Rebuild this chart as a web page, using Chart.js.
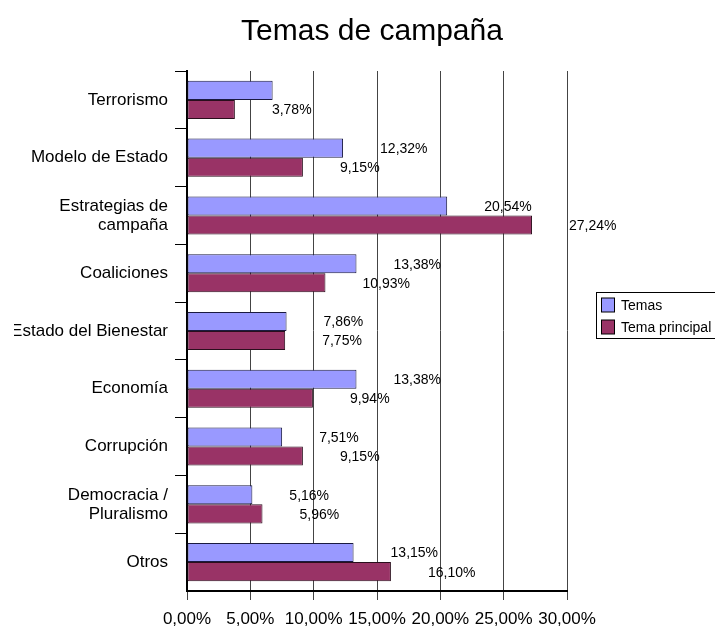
<!DOCTYPE html>
<html>
<head>
<meta charset="utf-8">
<script src="https://cdn.jsdelivr.net/npm/chart.js@4"></script>
<style>
  body { margin: 0; background: #fff; }
</style>
</head>
<body>
<canvas id="temasChart" width="715" height="626"></canvas>
<script>
const categorias = ['Terrorismo', 'Modelo de Estado', ['Estrategias de', 'campaña'], 'Coaliciones',
    'Estado del Bienestar', 'Economía', 'Corrupción', ['Democracia /', 'Pluralismo'], 'Otros'];
const temas = [6.76, 12.32, 20.54, 13.38, 7.86, 13.38, 7.51, 5.16, 13.15];
const temaPrincipal = [3.78, 9.15, 27.24, 10.93, 7.75, 9.94, 9.15, 5.96, 16.10];
// the Terrorismo label of "Temas" is not shown in the original
const ocultasTemas = [0];
const ejeMin = 0;
const ejeMax = 30;
const ejePaso = 5;

const fuente = "'Liberation Sans', Arial, sans-serif";

function pct(v) {
    return v.toFixed(2).replace('.', ',') + '%';
}

// value labels, offset to the right of each bar
const etiquetasBarras = {
    id: 'etiquetasBarras',
    afterDatasetsDraw(chart) {
        const ctx = chart.ctx;
        ctx.save();
        ctx.font = '14px ' + fuente;
        ctx.fillStyle = '#000';
        ctx.textAlign = 'left';
        ctx.textBaseline = 'middle';
        chart.data.datasets.forEach((ds, di) => {
            chart.getDatasetMeta(di).data.forEach((bar, i) => {
                if (di === 0 && ocultasTemas.includes(i)) return;
                ctx.fillText(pct(ds.data[i]), bar.x + 37, bar.y + 1);
            });
        });
        ctx.restore();
    }
};

// boxed legend on the right, cut by the canvas edge like the original
const leyenda = {
    id: 'leyenda',
    afterDraw(chart) {
        const ctx = chart.ctx;
        const x = chart.chartArea.right + 29.5;
        const y = Math.round(chart.height / 2) - 20.5;
        ctx.save();
        ctx.strokeStyle = '#000';
        ctx.lineWidth = 1;
        ctx.strokeRect(x, y, 140, 46);
        ctx.font = '14px ' + fuente;
        ctx.textBaseline = 'middle';
        chart.data.datasets.forEach((ds, i) => {
            const cy = y + 12.5 + i * 22;
            ctx.fillStyle = ds.backgroundColor;
            ctx.fillRect(x + 5, cy - 7, 13, 14);
            ctx.strokeRect(x + 5, cy - 7, 13, 14);
            ctx.fillStyle = '#000';
            ctx.fillText(ds.label, x + 24.5, cy + 1);
        });
        ctx.restore();
    }
};

window.onload = function() {
    const ctx = document.getElementById('temasChart').getContext('2d');

    new Chart(ctx, {
        type: 'bar',
        data: {
            labels: categorias,
            datasets: [{
                label: 'Temas',
                data: temas,
                backgroundColor: '#9999FF',
                borderColor: '#1a1a40',
                borderWidth: 1,
                borderSkipped: false,
                categoryPercentage: 0.66,
                barPercentage: 1
            }, {
                label: 'Tema principal',
                data: temaPrincipal,
                backgroundColor: '#993366',
                borderColor: '#2a0e1c',
                borderWidth: 1,
                borderSkipped: false,
                categoryPercentage: 0.66,
                barPercentage: 1
            }]
        },
        options: {
            indexAxis: 'y',
            responsive: false,
            animation: false,
            devicePixelRatio: 1,
            // negative right padding keeps the title centred where the original has it;
            // the left padding cuts the first letter of the longest label, as in the original
            layout: { padding: { left: 14, right: -15, top: 0, bottom: 0 } },
            plugins: {
                legend: { display: false },
                tooltip: { enabled: false },
                title: {
                    display: true,
                    text: 'Temas de campaña',
                    color: '#000',
                    font: { family: fuente, size: 30, weight: 'normal' },
                    padding: { top: 14, bottom: 21 }
                }
            },
            scales: {
                x: {
                    min: ejeMin,
                    max: ejeMax,
                    ticks: {
                        stepSize: ejePaso,
                        color: '#000',
                        padding: 9,
                        maxRotation: 0,
                        minRotation: 0,
                        autoSkip: false,
                        font: { family: fuente, size: 17 },
                        callback: v => pct(v)
                    },
                    grid: { color: '#444', lineWidth: 1, tickLength: 9 },
                    border: { display: true, color: '#000', width: 2 },
                    afterFit(s) { s.height = 35; }
                },
                y: {
                    ticks: {
                        color: '#000',
                        padding: 7,
                        autoSkip: false,
                        font: { family: fuente, size: 17, lineHeight: 1.12 }
                    },
                    grid: {
                        drawOnChartArea: false,
                        tickLength: 12,
                        color: c => c.type === 'tick' ? '#000' : 'rgba(0,0,0,0)'
                    },
                    border: { display: true, color: '#000', width: 2 },
                    afterFit(s) { s.width = 173; }
                },
                // empty space on the right for the legend
                hueco: {
                    type: 'linear',
                    position: 'right',
                    grid: { display: false, drawTicks: false },
                    ticks: { display: false },
                    border: { display: false },
                    afterFit(s) { s.width = 163; }
                }
            }
        },
        plugins: [etiquetasBarras, leyenda]
    });
};
</script>
</body>
</html>
